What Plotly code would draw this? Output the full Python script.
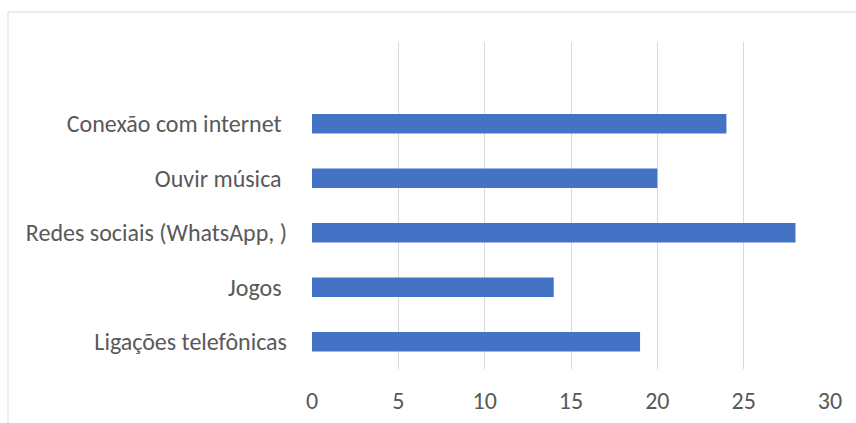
import plotly.graph_objects as go

categories = ["Ligações telefônicas", "Jogos\u00a0", "Redes sociais (WhatsApp, )", "Ouvir música\u00a0", "Conexão com internet\u00a0"]
values = [19, 14, 28, 20, 24]
x_ticks = [0, 5, 10, 15, 20, 25, 30]

W, H = 856, 423
L, R, T, B = 312, 830, 42, 369

fig = go.Figure(go.Bar(
    x=values, y=categories, orientation="h",
    marker=dict(color="#4472C4", line=dict(width=0)),
    width=0.36,
))

font_family = "Carlito, Calibri, Lato, 'Noto Sans', sans-serif"
fig.update_layout(
    width=W, height=H,
    margin=dict(l=L, r=W - R, t=T, b=H - B, pad=0),
    paper_bgcolor="white", plot_bgcolor="white",
    showlegend=False,
    font=dict(family=font_family, size=24, color="#595959"),
    xaxis=dict(range=[0, 30], tickvals=x_ticks, showgrid=True, gridcolor="#d9d9d9",
               gridwidth=1, zeroline=False, showline=False, ticks="",
               ticklabelstandoff=15, fixedrange=True, automargin=False),
    yaxis=dict(type="category", categoryorder="array", categoryarray=categories,
               range=[-0.5, 5.5], showgrid=False, zeroline=False, showline=False,
               ticks="", ticklabelstandoff=24, fixedrange=True, automargin=False),
    shapes=[dict(type="rect", xref="paper", yref="paper",
                 x0=(8 - L) / (R - L), x1=1.3,
                 y0=-0.5, y1=(B - 12) / (B - T),
                 line=dict(color="#d9d9d9", width=1), fillcolor="rgba(0,0,0,0)",
                 layer="below")],
)

fig.write_html("out.html")
